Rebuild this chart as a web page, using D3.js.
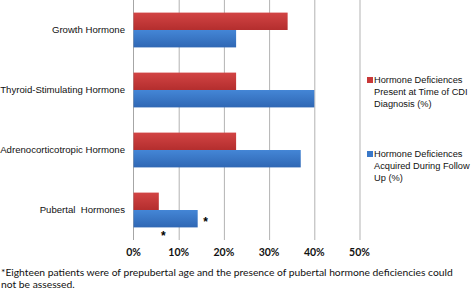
<!DOCTYPE html>
<html><head><meta charset="utf-8">
<script src="https://cdn.jsdelivr.net/npm/d3@7"></script>
<style>body{margin:0;background:#fff}svg{display:block}</style>
</head><body><svg id="c" width="473" height="289"></svg>
<script>
const categories = ["Growth Hormone","Thyroid-Stimulating Hormone","Adrenocorticotropic Hormone","Pubertal  Hormones"];
const presentValues = [34.1, 22.7, 22.7, 5.6];
const acquiredValues = [22.7, 40.0, 37.0, 14.2];
const seriesNames = ["Hormone Deficiences Present at Time of CDI Diagnosis (%)","Hormone Deficiences Acquired During Follow Up (%)"];
const legendLines = [["Hormone Deficiences","Present at Time of CDI","Diagnosis (%)"],["Hormone Deficiences","Acquired During Follow","Up (%)"]];
const xTicks = [0,10,20,30,40,50];
const footnote = ["*Eighteen patients were of prepubertal age and the presence of pubertal hormone deficiencies could","not be assessed."];

const svg = d3.select("#c");
const defs = svg.append("defs");
function grad(id, c1, c2){
  const g = defs.append("linearGradient").attr("id",id).attr("x1",0).attr("y1",0).attr("x2",0).attr("y2",1);
  g.append("stop").attr("offset","0%").attr("stop-color",c1);
  g.append("stop").attr("offset","100%").attr("stop-color",c2);
}
grad("gr","#d24444","#b42e2e");
grad("gb","#4486d6","#2f67b4");

const plot = {left:133.5, right:359.5, top:0, bottom:240};
const x = d3.scaleLinear().domain([0,50]).range([plot.left, plot.right]);
const y = d3.scaleBand().domain(categories).range([plot.top, plot.bottom]).paddingInner(0.42).paddingOuter(0.21);
const sub = d3.scaleBand().domain([0,1]).range([0, y.bandwidth()]);

// gridlines
svg.append("g").selectAll("line").data(xTicks.slice(1)).join("line")
  .attr("x1",d=>x(d)+0.5).attr("x2",d=>x(d)+0.5).attr("y1",plot.top).attr("y2",plot.bottom)
  .attr("stroke","#b3b3b3").attr("stroke-width",1);
// left axis
svg.append("line").attr("x1",x(0)).attr("x2",x(0)).attr("y1",plot.top).attr("y2",plot.bottom)
  .attr("stroke","#a6a6a6");

const series = [presentValues, acquiredValues];
const fills = ["url(#gr)","url(#gb)"];
series.forEach((vals, si) => {
  svg.append("g").selectAll("rect").data(categories).join("rect")
    .attr("x", x(0)).attr("y", c => y(c)+sub(si))
    .attr("width", (c,i) => x(vals[i]) - x(0)).attr("height", sub.bandwidth())
    .attr("fill", fills[si]);
});

// category labels
svg.append("g").selectAll("text").data(categories).join("text")
  .attr("x",125).attr("y",c=>y(c)+y.bandwidth()/2).attr("dy","0.35em")
  .attr("text-anchor","end").attr("font-family","Liberation Sans, Arial, sans-serif")
  .attr("font-size",9.6).attr("fill","#111").style("white-space","pre").text(d=>d);

// x tick labels
svg.append("g").selectAll("text").data(xTicks).join("text")
  .attr("x",d=>x(d)).attr("y",252).attr("dy","0.35em").attr("text-anchor","middle")
  .attr("font-family","Lato, sans-serif").attr("font-weight","bold").attr("font-size",10.5).attr("fill","#111")
  .text(d=>d+"%");

// asterisks
const pub = categories[3];
svg.append("text").attr("x", x(acquiredValues[3])+8).attr("y", y(pub)+sub(1)+sub.bandwidth()/2+7)
  .attr("text-anchor","middle").attr("font-family","Liberation Sans, Arial").attr("font-weight","bold").attr("font-size",12).text("*");
svg.append("text").attr("x", x(6.6)).attr("y", 240)
  .attr("text-anchor","middle").attr("font-family","Liberation Sans, Arial").attr("font-weight","bold").attr("font-size",12).text("*");

// legend
const legY = [80,154];
const legColors = ["#c83838","#3a78c8"];
legendLines.forEach((lines, i) => {
  svg.append("rect").attr("x",367).attr("y",legY[i]-3).attr("width",6).attr("height",6).attr("fill",legColors[i]);
  const t = svg.append("text").attr("font-family","Liberation Sans, Arial, sans-serif").attr("font-size",9.25).attr("fill","#111");
  lines.forEach((l, j) => {
    t.append("tspan").attr("x", 374).attr("y", legY[i]+j*11.7).attr("dy","0.35em").text(l);
  });
});

// footnote
svg.append("g").selectAll("text").data(footnote).join("text")
  .attr("x",1).attr("y",(d,i)=>272+i*12).attr("dy","0.35em")
  .attr("font-family","Lato, sans-serif").attr("font-size",10.3).attr("fill","#111")
  .text(d=>d);
</script></body></html>
